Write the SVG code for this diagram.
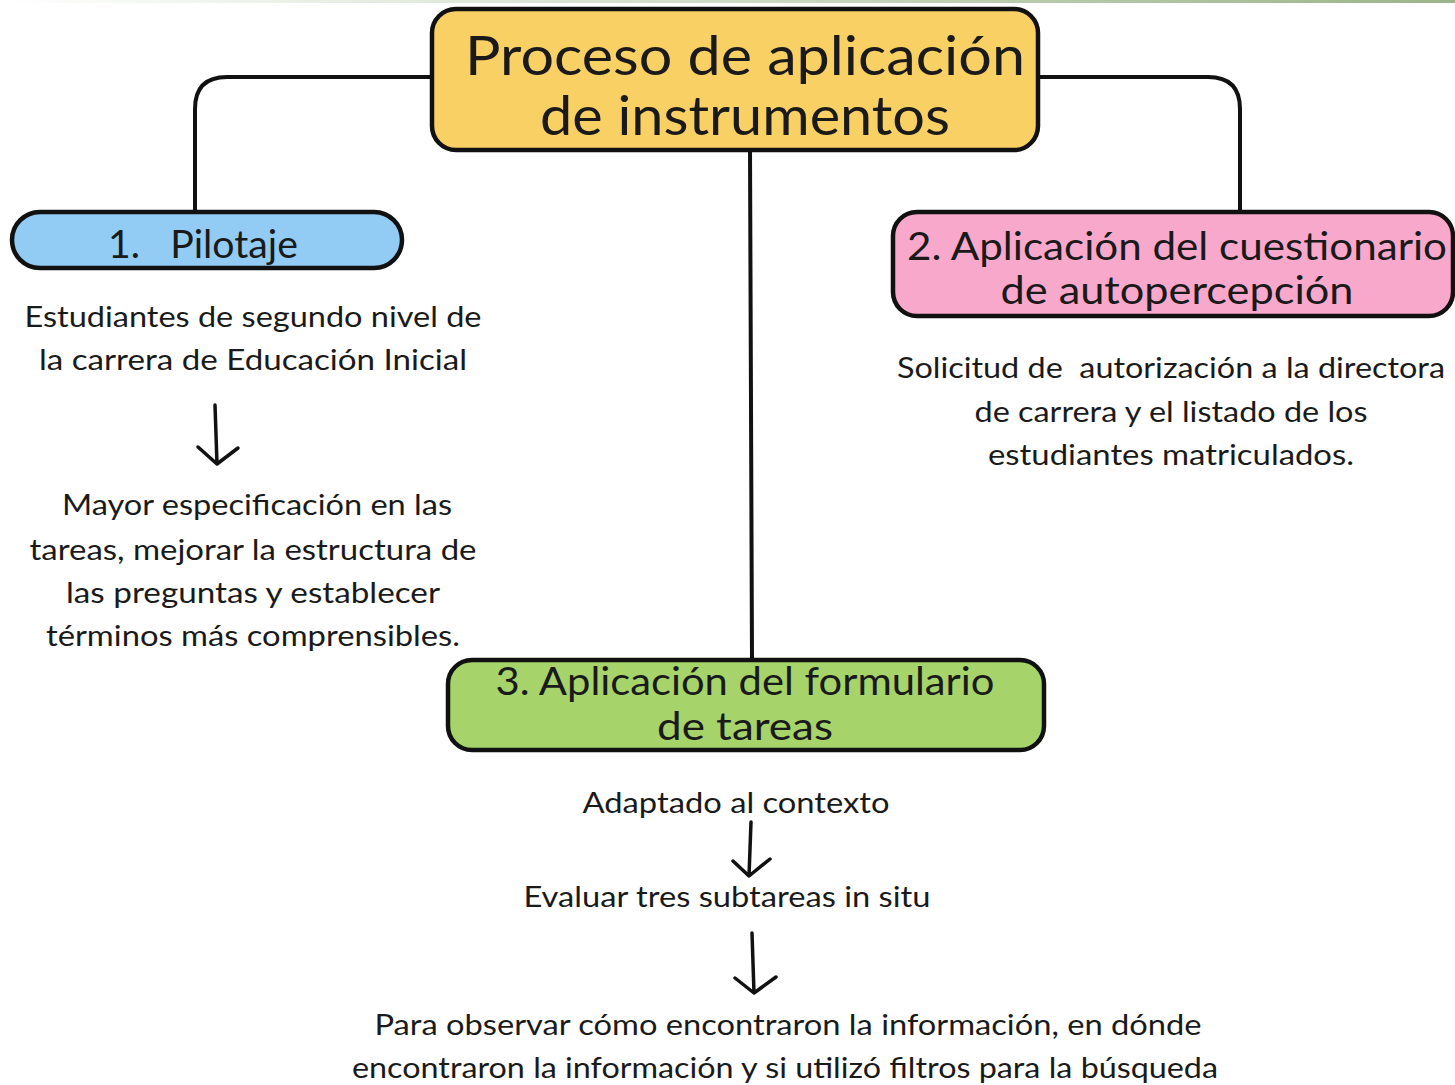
<svg xmlns="http://www.w3.org/2000/svg" width="1455" height="1085" viewBox="0 0 1455 1085">
<defs>
<linearGradient id="topbar" x1="0" y1="0" x2="1" y2="0">
<stop offset="0" stop-color="#ffffff"/>
<stop offset="1" stop-color="#9bb58a"/>
</linearGradient>
<style>
.box{stroke:#111;stroke-width:4.5}
.conn{fill:none;stroke:#111;stroke-width:4;stroke-linecap:round;stroke-linejoin:round}
.arr{fill:none;stroke:#111;stroke-width:3.5;stroke-linecap:round;stroke-linejoin:round}
text{font-family:Lato,"Liberation Sans",sans-serif;fill:#1a1a1a;text-anchor:middle}
.title{font-size:54px}
.head{font-size:39px}
.body{font-size:29px}
.pre{white-space:pre}
</style>
</defs>
<rect width="1455" height="1085" fill="#fff"/>
<rect x="0" y="0" width="1455" height="3" fill="url(#topbar)"/>
<g id="connectors">
<path class="conn" d="M432 77 H227 Q195 77 195 109 V212"/>
<path class="conn" d="M1038 77 H1208 Q1240 77 1240 109 V212"/>
<path class="conn" d="M750 150 L752 660"/>
</g>
<g id="root">
<rect class="box" x="432" y="9" width="606" height="141" rx="24" fill="#f9d064"/>
<text class="title" x="745" y="75" textLength="560" lengthAdjust="spacingAndGlyphs">Proceso de aplicación</text>
<text class="title" x="745" y="135" textLength="410" lengthAdjust="spacingAndGlyphs">de instrumentos</text>
</g>
<g id="pilotaje">
<rect class="box" x="12" y="212" width="390" height="56" rx="28" fill="#92cbf3"/>
<text class="head pre" x="203" y="258" textLength="190" lengthAdjust="spacingAndGlyphs">1.   Pilotaje</text>
</g>
<g id="cuestionario">
<rect class="box" x="893" y="212" width="560" height="104" rx="24" fill="#f8a8cb"/>
<text class="head" x="1177" y="260" textLength="540" lengthAdjust="spacingAndGlyphs">2. Aplicación del cuestionario</text>
<text class="head" x="1177" y="304" textLength="353" lengthAdjust="spacingAndGlyphs">de autopercepción</text>
</g>
<g id="formulario">
<rect class="box" x="448" y="660" width="596" height="90" rx="24" fill="#a6d46a"/>
<text class="head" x="745" y="695" textLength="499" lengthAdjust="spacingAndGlyphs">3. Aplicación del formulario</text>
<text class="head" x="745" y="740" textLength="176" lengthAdjust="spacingAndGlyphs">de tareas</text>
</g>
<g id="pilotaje-detail">
<text class="body" x="253" y="327" textLength="457" lengthAdjust="spacingAndGlyphs">Estudiantes de segundo nivel de</text>
<text class="body" x="253" y="370" textLength="428" lengthAdjust="spacingAndGlyphs">la carrera de Educación Inicial</text>
<path class="arr" d="M215 405 L217 464 M198 447 L217 464 L238 448"/>
<text class="body" x="257" y="515" textLength="390" lengthAdjust="spacingAndGlyphs">Mayor especificación en las</text>
<text class="body" x="253" y="560" textLength="447" lengthAdjust="spacingAndGlyphs">tareas, mejorar la estructura de</text>
<text class="body" x="253" y="603" textLength="374" lengthAdjust="spacingAndGlyphs">las preguntas y establecer</text>
<text class="body" x="253" y="646" textLength="414" lengthAdjust="spacingAndGlyphs">términos más comprensibles.</text>
</g>
<g id="cuestionario-detail">
<text class="body pre" x="1171" y="378" textLength="548" lengthAdjust="spacingAndGlyphs">Solicitud de  autorización a la directora</text>
<text class="body" x="1171" y="422" textLength="393" lengthAdjust="spacingAndGlyphs">de carrera y el listado de los</text>
<text class="body" x="1171" y="465" textLength="366" lengthAdjust="spacingAndGlyphs">estudiantes matriculados.</text>
</g>
<g id="formulario-detail">
<text class="body" x="736" y="813" textLength="307" lengthAdjust="spacingAndGlyphs">Adaptado al contexto</text>
<path class="arr" d="M751 822 L749 876 M733 861 L749 876 L770 859"/>
<text class="body" x="727" y="907" textLength="407" lengthAdjust="spacingAndGlyphs">Evaluar tres subtareas in situ</text>
<path class="arr" d="M752 933 L754 993 M735 978 L754 993 L776 977"/>
<text class="body" x="788" y="1035" textLength="827" lengthAdjust="spacingAndGlyphs">Para observar cómo encontraron la información, en dónde</text>
<text class="body" x="785" y="1078" textLength="866" lengthAdjust="spacingAndGlyphs">encontraron la información y si utilizó filtros para la búsqueda</text>
</g>
</svg>
